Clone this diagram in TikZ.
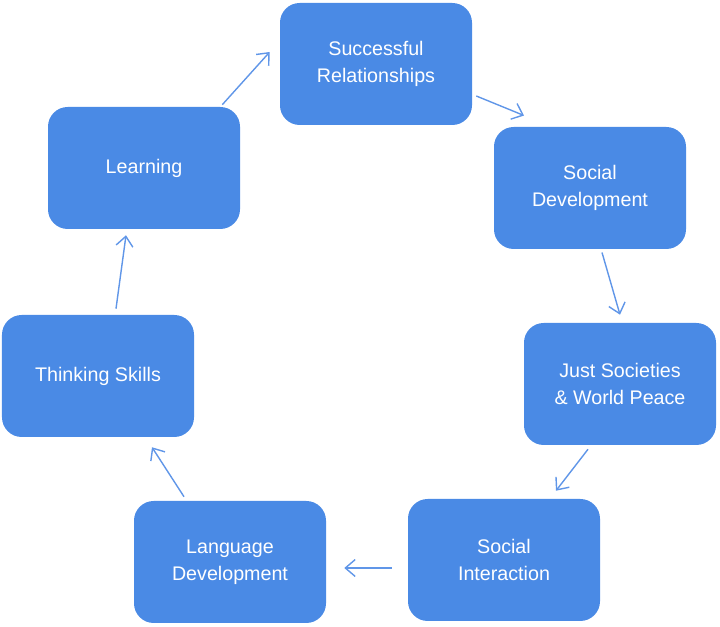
\documentclass[tikz,border=0pt]{standalone}
\usepackage{fontspec}
\setmainfont{Liberation Sans}
\usetikzlibrary{arrows.meta,positioning}
\definecolor{boxblue}{RGB}{74,138,229}
\definecolor{arrblue}{RGB}{96,150,232}
\tikzset{
  stage/.style={draw=none,fill=boxblue,rounded corners=14pt,minimum width=4.8cm,
    minimum height=3.05cm,align=center,text=white,font=\fontsize{14}{19}\selectfont},
  flow/.style={draw=arrblue,line width=1pt,-{Straight Barb[length=7pt,width=12pt]}}
}
\begin{document}
\begin{tikzpicture}
    \useasboundingbox (0,0) rectangle (18,15.675);
    % Stages
    \node[stage] (succ) at (9.4,14.075) {Successful\\Relationships};
    \node[stage] (soc) at (14.75,10.975) {Social\\Development};
    \node[stage] (just) at (15.5,6.075) {Just Societies\\\& World Peace};
    \node[stage] (inter) at (12.6,1.675) {Social\\Interaction};
    \node[stage] (lang) at (5.75,1.625) {Language\\Development};
    \node[stage] (think) at (2.45,6.275) {Thinking Skills};
    \node[stage] (learn) at (3.6,11.475) {Learning};

    % Cycle
    \draw[flow] ([xshift=-0.45cm,yshift=0.05cm]learn.north east) -- ([xshift=-0.25cm,yshift=0.3cm]succ.west);
    \draw[flow] ([xshift=0.1cm,yshift=-0.8cm]succ.east) -- ([xshift=-1.65cm,yshift=0.28cm]soc.north);
    \draw[flow] ([xshift=0.3cm,yshift=-0.08cm]soc.south) -- ([yshift=0.2cm]just.north);
    \draw[flow] ([xshift=-0.8cm,yshift=-0.1cm]just.south) -- ([xshift=1.3cm,yshift=0.2cm]inter.north);
    \draw[flow] ([xshift=-0.4cm,yshift=-0.2cm]inter.west) -- ([xshift=0.45cm,yshift=-0.15cm]lang.east);
    \draw[flow] ([xshift=-1.15cm,yshift=0.1cm]lang.north) -- ([xshift=1.35cm,yshift=-0.25cm]think.south);
    \draw[flow] ([xshift=0.45cm,yshift=0.15cm]think.north) -- ([xshift=-0.45cm,yshift=-0.15cm]learn.south);
\end{tikzpicture}
\end{document}
